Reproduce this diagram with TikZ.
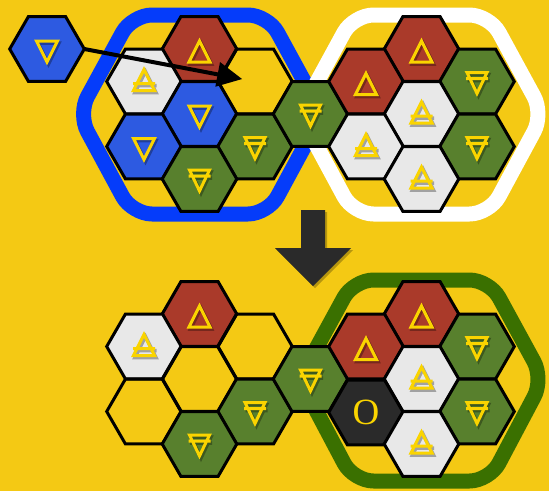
\documentclass[tikz,border=0pt]{standalone}
\usepackage{fontspec}
\newfontfamily\stonefont{Liberation Serif}
\usepackage{tikz}
\usetikzlibrary{shapes.geometric,arrows.meta}

\definecolor{bgyellow}{RGB}{244,201,20}
\definecolor{symyellow}{RGB}{250,212,0}
\definecolor{firered}{RGB}{170,58,42}
\definecolor{waterblue}{RGB}{45,90,225}
\definecolor{earthgreen}{RGB}{88,128,45}
\definecolor{airwhite}{RGB}{232,232,232}
\definecolor{coal}{RGB}{42,42,42}
\definecolor{blobblue}{RGB}{5,60,250}
\definecolor{blobgreen}{RGB}{58,112,0}

\tikzset{
    sym/.style={draw=symyellow, line width=3pt, line join=miter},
    shd/.style={draw=black, opacity=.3, line width=3.5pt, shift={(1.5,2)}},
    firesym/.pic={
        \draw[shd] (0,-8) -- (10.5,13) -- (-10.5,13) -- cycle;
        \draw[sym] (0,-8) -- (10.5,13) -- (-10.5,13) -- cycle;},
    watersym/.pic={
        \draw[shd] (-10.5,-8) -- (10.5,-8) -- (0,13) -- cycle;
        \draw[sym] (-10.5,-8) -- (10.5,-8) -- (0,13) -- cycle;},
    airsym/.pic={
        \draw[shd] (0,-12) -- (10.5,9) -- (-10.5,9) -- cycle (-11,2) -- (11,2);
        \draw[sym] (0,-12) -- (10.5,9) -- (-10.5,9) -- cycle (-11,2) -- (11,2);},
    earthsym/.pic={
        \draw[shd] (-10,-9) -- (10,-9) -- (0,12) -- cycle (-11,-3) -- (11,-3);
        \draw[sym] (-10,-9) -- (10,-9) -- (0,12) -- cycle (-11,-3) -- (11,-3);},
}

\begin{document}
\begin{tikzpicture}[x=1pt, y=-1pt,
        hex/.style   ={regular polygon, regular polygon sides=6,
                       minimum size=74.6pt, inner sep=0pt, outer sep=0pt,
                       draw=black, line width=3pt},
        fire/.style  ={hex, fill=firered,
                       path picture={\pic at (path picture bounding box.center) {firesym};}},
        water/.style ={hex, fill=waterblue,
                       path picture={\pic at (path picture bounding box.center) {watersym};}},
        air/.style   ={hex, fill=airwhite,
                       path picture={\pic at (path picture bounding box.center) {airsym};}},
        earth/.style ={hex, fill=earthgreen,
                       path picture={\pic at (path picture bounding box.center) {earthsym};}},
        vacant/.style={hex},
        rock/.style  ={hex, fill=coal, text=symyellow,
                       font=\stonefont\fontsize{37}{37}\selectfont},
        blob/.style  ={line width=15pt, rounded corners=20pt, line join=round},
        move/.style  ={-{Triangle[length=25pt, width=24pt]}, line width=4pt,
                       shorten >=13pt},]

    \fill[bgyellow] (0,0) rectangle (549,491);
    \useasboundingbox (0,0) rectangle (549,491);

    % rings round the groups
    \draw[blob, draw=blobblue, shift={(200,114)}]
        (-122,0) -- (-68,-99) -- (68,-99) -- (122,0) -- (68,100) -- (-68,100) -- cycle;
    \draw[blob, draw=white, shift={(421.5,114)}]
        (-122,0) -- (-68,-99) -- (68,-99) -- (122,0) -- (68,100) -- (-68,100) -- cycle;
    \draw[blob, draw=blobgreen, shift={(421.5,379)}]
        (-122,0) -- (-68,-99) -- (68,-99) -- (122,0) -- (68,102) -- (-68,102) -- cycle;

    % before
    \node[water]  (lone) at (47,49)      {};
    \node[fire]   (tlN)  at (199.5,49)   {};
    \node[air]    (tlNW) at (144,81.5)   {};
    \node[vacant] (tlNE) at (255,81.5)   {};
    \node[water]  (tlC)  at (199.5,114)  {};
    \node[water]  (tlSW) at (144,146.5)  {};
    \node[earth]  (tlSE) at (255,146.5)  {};
    \node[earth]  (tlS)  at (199.5,179)  {};
    \node[earth]  (tB)   at (310.5,114)  {};
    \node[fire]   (trN)  at (421.5,49)   {};
    \node[fire]   (trNW) at (366,81.5)   {};
    \node[earth]  (trNE) at (477,81.5)   {};
    \node[air]    (trC)  at (421.5,114)  {};
    \node[air]    (trSW) at (366,146.5)  {};
    \node[earth]  (trSE) at (477,146.5)  {};
    \node[air]    (trS)  at (421.5,179)  {};

    % after
    \node[fire]   (blN)  at (199.5,314)  {};
    \node[air]    (blNW) at (144,346.5)  {};
    \node[vacant] (blNE) at (255,346.5)  {};
    \node[vacant] (blC)  at (199.5,379)  {};
    \node[vacant] (blSW) at (144,411.5)  {};
    \node[earth]  (blSE) at (255,411.5)  {};
    \node[earth]  (blS)  at (199.5,444)  {};
    \node[earth]  (bB)   at (310.5,379)  {};
    \node[fire]   (brN)  at (421.5,314)  {};
    \node[fire]   (brNW) at (366,346.5)  {};
    \node[earth]  (brNE) at (477,346.5)  {};
    \node[air]    (brC)  at (421.5,379)  {};
    \node[rock]   (brSW) at (366,412.5)  {O};
    \node[earth]  (brSE) at (477,411.5)  {};
    \node[air]    (brS)  at (421.5,444)  {};

    % big arrow between the two states
    \fill[black, opacity=.25, shift={(2,2)}]
        (301,210) -- (325,210) -- (325,248) -- (351,248) -- (313,286)
        -- (275,248) -- (301,248) -- cycle;
    \fill[coal]
        (301,210) -- (325,210) -- (325,248) -- (351,248) -- (313,286)
        -- (275,248) -- (301,248) -- cycle;

    \draw[move] (lone.east) -- (tlNE.center);
\end{tikzpicture}
\end{document}
